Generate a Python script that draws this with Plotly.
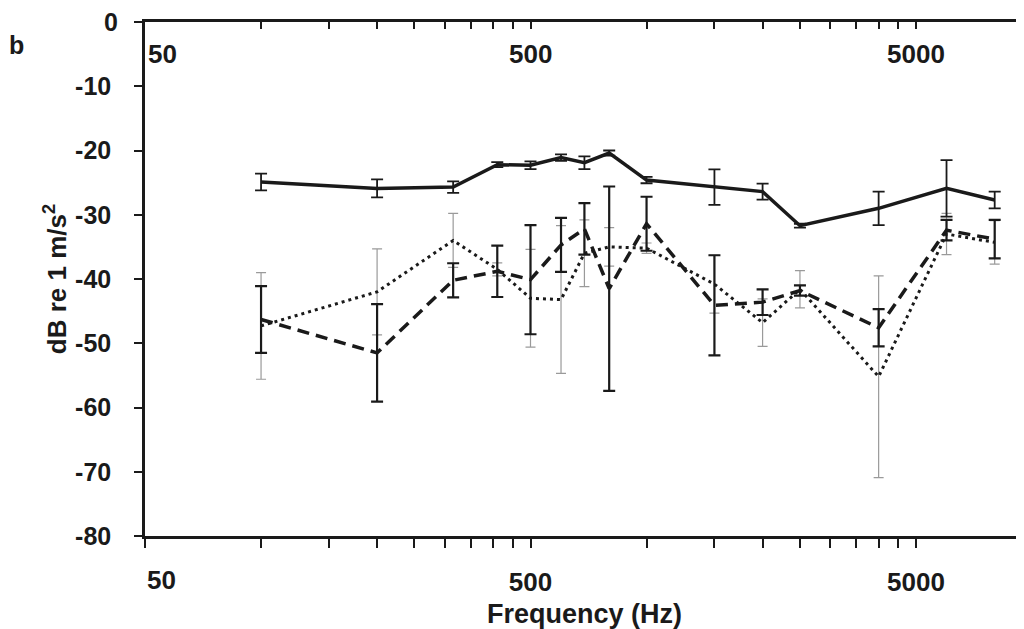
import math
import plotly.graph_objects as go

# ---- data ----
freq = [100, 200, 315, 410, 500, 600, 690, 800, 1000, 1500, 2000, 2500, 4000, 6000, 8000]

solid = [-24.9, -25.9, -25.7, -22.2, -22.3, -21.1, -21.9, -20.4, -24.6, -25.7, -26.4, -31.7, -29.0, -25.9, -27.7]
solid_err = [1.3, 1.4, 0.9, 0.4, 0.6, 0.5, 1.0, 0.4, 0.5, 2.75, 1.25, 0.3, 2.6, 4.4, 1.3]

dashed = [-46.3, -51.5, -40.2, -38.8, -40.1, -34.7, -32.2, -41.5, -31.4, -44.1, -43.6, -41.8, -47.6, -32.4, -33.8]
dashed_err = [5.2, 7.6, 2.65, 4.0, 8.5, 4.2, 4.0, 15.9, 4.2, 7.8, 2.0, 0.8, 2.9, 1.6, 3.0]

dotted = [-47.3, -42.0, -34.0, -38.5, -43.0, -43.2, -36.0, -35.0, -35.2, -40.8, -46.8, -41.6, -55.2, -33.0, -34.3]
dotted_err = [8.3, 6.7, 4.2, 1.0, 7.6, 11.5, 5.2, 3.0, 0.8, 4.5, 3.7, 2.9, 15.7, 3.2, 3.4]

y_ticks = [0, -10, -20, -30, -40, -50, -60, -70, -80]
major_x = [50, 500, 5000]
major_labels = ["50", "500", "5000"]
minor_x = [100, 150, 200, 250, 300, 350, 400, 450,
           1000, 1500, 2000, 2500, 3000, 3500, 4000, 4500]

FONT = "Liberation Sans, Arial, sans-serif"
BLACK = "#1a1a1a"

fig = go.Figure()

fig.add_trace(go.Scatter(
    x=freq, y=dotted, mode="lines",
    line=dict(color=BLACK, width=3, dash="3px,4px"),
    error_y=dict(type="data", array=dotted_err, color="#9a9a9a", thickness=1.2, width=5),
    showlegend=False))

fig.add_trace(go.Scatter(
    x=freq, y=dashed, mode="lines",
    line=dict(color=BLACK, width=3.5, dash="12px,7px"),
    error_y=dict(type="data", array=dashed_err, color=BLACK, thickness=2.2, width=6),
    showlegend=False))

fig.add_trace(go.Scatter(
    x=freq, y=solid, mode="lines",
    line=dict(color=BLACK, width=3.5),
    error_y=dict(type="data", array=solid_err, color=BLACK, thickness=1.8, width=6),
    showlegend=False))

tickvals = major_x + minor_x
ticktext = ["", "500", "5000"] + [""] * len(minor_x)

x_lo = math.log10(50)
x_hi = x_lo + (1024 - 145) / 385.5

xtick_font = dict(family=FONT, size=26, color=BLACK, weight="bold")
ytick_font = dict(family=FONT, size=25, color=BLACK, weight="bold")
title_font = dict(family=FONT, size=27, color=BLACK, weight="bold")

# y tick texts; the top one ("0") is placed as an annotation (plotly drops it at the corner)
y_ticktext = ["" if v == 0 else str(v) for v in y_ticks]

# page body has an 8px margin: figure is sized/offset to compensate
fig.update_layout(
    width=1016, height=621,
    margin=dict(l=137, r=0, t=14, b=93, autoexpand=False),
    paper_bgcolor="white", plot_bgcolor="white",
    font=dict(family=FONT, color=BLACK),
    xaxis=dict(
        type="log", range=[x_lo, x_hi], automargin=False,
        tickmode="array", tickvals=tickvals, ticktext=ticktext,
        ticks="outside", ticklen=9, tickwidth=2, tickcolor=BLACK,
        showline=True, linewidth=2.5, linecolor=BLACK,
        showgrid=False, zeroline=False,
        tickfont=xtick_font, ticklabelstandoff=12,
        title=dict(text="Frequency (Hz)", font=title_font, standoff=10),
    ),
    xaxis2=dict(
        type="log", range=[x_lo, x_hi], overlaying="x", side="top", matches="x",
        automargin=False,
        tickmode="array", tickvals=tickvals,
        ticks="inside", ticklen=7, tickwidth=2, tickcolor=BLACK,
        showline=True, linewidth=2.5, linecolor=BLACK,
        showgrid=False, zeroline=False, showticklabels=False,
    ),
    yaxis=dict(
        range=[-80, 0], automargin=False, tickmode="array", tickvals=y_ticks,
        ticktext=y_ticktext,
        ticks="outside", ticklen=8, tickwidth=2, tickcolor=BLACK,
        showline=True, linewidth=2.5, linecolor=BLACK,
        showgrid=False, zeroline=False,
        tickfont=ytick_font, ticklabelstandoff=18,
        title=dict(text="dB re 1 m/s<sup>2</sup>", font=dict(family=FONT, size=26, color=BLACK, weight="bold"), standoff=2),
    ),
)

# invisible trace to activate top axis
fig.add_trace(go.Scatter(x=[freq[0]], y=[solid[0]], xaxis="x2", mode="markers",
                         marker=dict(opacity=0), showlegend=False, hoverinfo="skip"))

# top-axis labels (drawn inside the plot, under the top axis line)
for v, lab in zip(major_x, major_labels):
    fig.add_annotation(x=math.log10(v), xref="x", y=1, yref="paper", text=lab, showarrow=False,
                       xanchor="left" if v == 50 else "center", yanchor="middle",
                       xshift=1 if v == 50 else 0, yshift=-32, font=xtick_font)

# y label "0" at the top of the y axis
fig.add_annotation(x=0, xref="paper", y=y_ticks[0], yref="y", text=str(y_ticks[0]),
                   showarrow=False, xanchor="right", yanchor="middle", xshift=-25,
                   font=ytick_font)

# bottom "50" label, set just right of the corner as in the original
fig.add_annotation(x=x_lo, xref="x", y=0, yref="paper", text="50", showarrow=False,
                   xanchor="left", yanchor="middle", xshift=0, yshift=-44, font=xtick_font)
fig.add_annotation(x=-138 / 879, xref="paper", y=1, yref="paper", text="b",
                   showarrow=False, xanchor="left", yanchor="middle", yshift=-23,
                   font=ytick_font)

fig.write_html("out.html")
